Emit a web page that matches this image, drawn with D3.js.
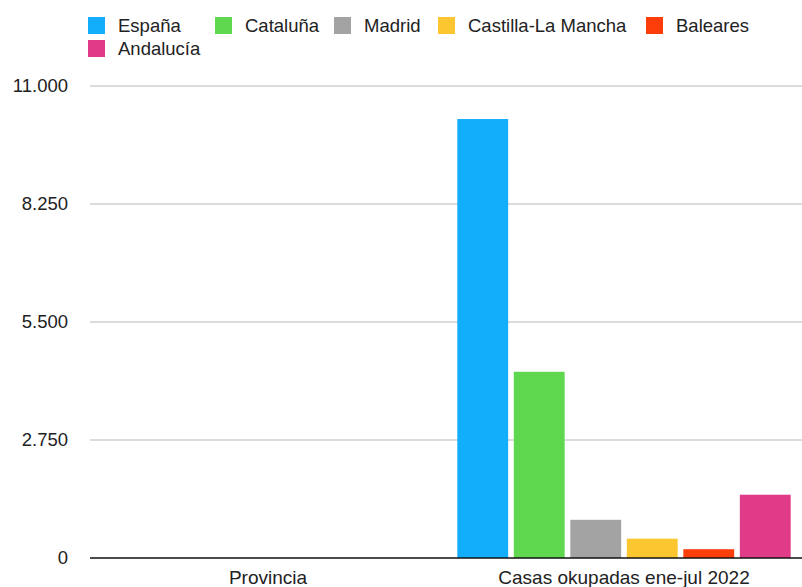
<!DOCTYPE html>
<html>
<head>
<meta charset="utf-8">
<script src="https://cdn.jsdelivr.net/npm/d3@7"></script>
<style>
  body { margin: 0; background: #fff; }
  text { font-family: "Liberation Sans", Arial, sans-serif; fill: #222; }
</style>
</head>
<body>
<div id="chart"></div>
<script>
// Regions (series) and the two category groups
var regions = ["España", "Cataluña", "Madrid", "Castilla-La Mancha", "Baleares", "Andalucía"];
var colors  = ["#12aefc", "#5fd84f", "#a3a3a3", "#fcc630", "#fd3e0b", "#e03b88"];
var categories = ["Provincia", "Casas okupadas ene-jul 2022"];
// values per region, one per category
var provincia = [0, 0, 0, 0, 0, 0];
var casas     = [10230, 4340, 890, 450, 205, 1475];
var yTicks = [0, 2750, 5500, 8250, 11000];

var width = 802, height = 587;
var margin = { top: 86, right: 0, bottom: 29, left: 90 };

var svg = d3.select("#chart").append("svg")
    .attr("width", width)
    .attr("height", height);

var x0 = d3.scaleBand()
    .domain(categories)
    .range([margin.left, width - margin.right]);

var x1 = d3.scaleBand()
    .domain(regions)
    .range([0, x0.bandwidth()])
    .paddingOuter(0.2)
    .paddingInner(0.1);

var y = d3.scaleLinear()
    .domain([0, 11000])
    .range([height - margin.bottom, margin.top]);

var fmt = function(d) { return d3.format(",")(d).replace(/,/g, "."); };

// gridlines
svg.append("g")
    .selectAll("line")
    .data(yTicks.filter(function(d) { return d > 0; }))
    .enter().append("line")
    .attr("x1", margin.left)
    .attr("x2", width)
    .attr("y1", function(d) { return y(d); })
    .attr("y2", function(d) { return y(d); })
    .attr("stroke", "#b8b8b8")
    .attr("stroke-width", 1);

// y tick labels
svg.append("g")
    .selectAll("text")
    .data(yTicks)
    .enter().append("text")
    .attr("x", 68)
    .attr("y", function(d) { return y(d); })
    .attr("dy", "0.35em")
    .attr("text-anchor", "end")
    .style("font-size", "18.5px")
    .text(fmt);

// bars
var table = categories.map(function(c, i) {
    var vals = i === 0 ? provincia : casas;
    return { cat: c, vals: regions.map(function(r, j) { return { region: r, value: vals[j], color: colors[j] }; }) };
});

var group = svg.selectAll("g.grp")
    .data(table)
    .enter().append("g")
    .attr("class", "grp")
    .attr("transform", function(d) { return "translate(" + x0(d.cat) + ",0)"; });

group.selectAll("rect")
    .data(function(d) { return d.vals; })
    .enter().append("rect")
    .attr("x", function(d) { return x1(d.region); })
    .attr("width", x1.bandwidth())
    .attr("y", function(d) { return y(d.value); })
    .attr("height", function(d) { return y(0) - y(d.value); })
    .attr("fill", function(d) { return d.color; });

// baseline
svg.append("line")
    .attr("x1", margin.left)
    .attr("x2", width)
    .attr("y1", y(0))
    .attr("y2", y(0))
    .attr("stroke", "#111")
    .attr("stroke-width", 1.5);

// category labels
svg.append("g")
    .selectAll("text")
    .data(categories)
    .enter().append("text")
    .attr("x", function(d) { return x0(d) + x0.bandwidth() / 2; })
    .attr("y", 584)
    .attr("text-anchor", "middle")
    .style("font-size", "19px")
    .text(function(d) { return d; });

// legend
var legendX = [88, 215, 334, 438, 646, 88];
var legendY = [25.5, 25.5, 25.5, 25.5, 25.5, 48.5];
var legend = svg.append("g")
    .selectAll("g")
    .data(regions)
    .enter().append("g")
    .attr("transform", function(d, i) { return "translate(" + legendX[i] + "," + legendY[i] + ")"; });

legend.append("rect")
    .attr("x", 0)
    .attr("y", -8.5)
    .attr("width", 17)
    .attr("height", 17)
    .attr("fill", function(d, i) { return colors[i]; });

legend.append("text")
    .attr("x", 30)
    .attr("y", 0)
    .attr("dy", "0.35em")
    .style("font-size", "18.5px")
    .text(function(d) { return d; });
</script>
</body>
</html>
